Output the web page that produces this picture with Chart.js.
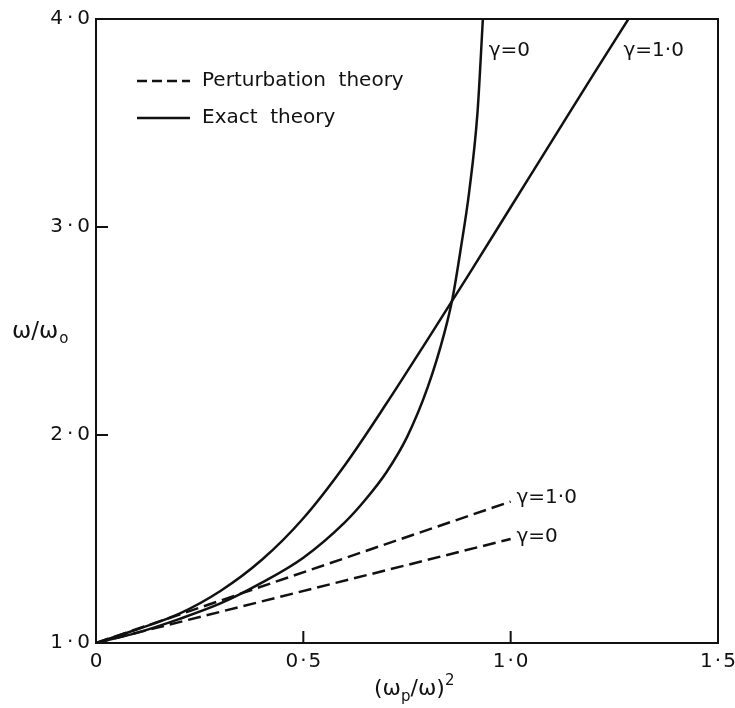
<!DOCTYPE html>
<html>
<head>
<meta charset="utf-8">
<script src="https://cdn.jsdelivr.net/npm/chart.js@4.4.1/dist/chart.umd.min.js"></script>
<style>
  body { margin: 0; background: #fff; }
  #wrap { width: 735px; height: 708px; }
</style>
</head>
<body>
<div id="wrap"><canvas id="chart"></canvas></div>
<script>
// (wp/w)^2 values and w/w0 values
const xExactG0 = [0, 0.1, 0.2, 0.3, 0.4, 0.5, 0.6, 0.65, 0.7, 0.75, 0.8, 0.84, 0.86, 0.88, 0.9, 0.92, 0.933];
const yExactG0 = [1.0, 1.05, 1.115, 1.19, 1.29, 1.41, 1.58, 1.69, 1.82, 1.99, 2.23, 2.49, 2.66, 2.9, 3.17, 3.55, 4.0];

const xExactG1 = [0, 0.1, 0.2, 0.3, 0.4, 0.5, 0.6, 0.7, 0.8, 0.9, 1.0, 1.1, 1.2, 1.284];
const yExactG1 = [1.0, 1.066, 1.14, 1.25, 1.4, 1.6, 1.855, 2.15, 2.46, 2.775, 3.095, 3.415, 3.735, 4.0];

const xPert = [0, 1.0];
const yPertG0 = [1.0, 1.5];
const yPertG1 = [1.0, 1.68];

const xTicks = [0, 0.5, 1.0, 1.5];
const yTicks = [1, 2, 3, 4];

// curve labels, in data coordinates
const curveLabels = [
    { text: 'γ=0', x: 0.947, y: 3.846 },
    { text: 'γ=1·0', x: 1.272, y: 3.846 },
    { text: 'γ=1·0', x: 1.014, y: 1.697 },
    { text: 'γ=0', x: 1.014, y: 1.51 }
];

const FONT = '"DejaVu Sans", sans-serif';
const INK = '#111';

function pts(xs, ys) {
    return xs.map((x, i) => ({ x: x, y: ys[i] }));
}

function fmtY(v) {
    return v.toFixed(1).replace('.', '\u2009·\u2009');
}

function fmtX(v) {
    if (v === 0) return '0';
    return v.toFixed(1).replace('.', '\u200a·\u200a');
}

const lineStyle = { borderColor: INK, borderWidth: 2.5, pointRadius: 0, showLine: true, fill: false };

// frame, inward ticks, axis titles, legend and curve labels
const decorations = {
    id: 'decorations',
    afterDraw(chart) {
        const ctx = chart.ctx;
        const a = chart.chartArea;
        const xs = chart.scales.x, ys = chart.scales.y;
        ctx.save();
        ctx.strokeStyle = INK;
        ctx.fillStyle = INK;
        ctx.lineWidth = 2;
        ctx.strokeRect(a.left, a.top, a.right - a.left, a.bottom - a.top);

        ctx.beginPath();
        [0.5, 1.0].forEach(v => {
            const px = xs.getPixelForValue(v);
            ctx.moveTo(px, a.bottom);
            ctx.lineTo(px, a.bottom - 12);
        });
        [2, 3].forEach(v => {
            const py = ys.getPixelForValue(v);
            ctx.moveTo(a.left, py);
            ctx.lineTo(a.left + 12, py);
        });
        ctx.stroke();

        // legend
        ctx.lineWidth = 2.5;
        ctx.setLineDash([10, 5]);
        ctx.beginPath();
        ctx.moveTo(a.left + 41, a.top + 62);
        ctx.lineTo(a.left + 94, a.top + 62);
        ctx.stroke();
        ctx.setLineDash([]);
        ctx.beginPath();
        ctx.moveTo(a.left + 41, a.top + 99);
        ctx.lineTo(a.left + 94, a.top + 99);
        ctx.stroke();
        ctx.font = '20px ' + FONT;
        ctx.textBaseline = 'middle';
        ctx.textAlign = 'left';
        ctx.fillText('Perturbation  theory', a.left + 106, a.top + 62);
        ctx.fillText('Exact  theory', a.left + 106, a.top + 99);

        curveLabels.forEach(l => {
            ctx.fillText(l.text, xs.getPixelForValue(l.x), ys.getPixelForValue(l.y));
        });

        // y title: w/w0
        ctx.textBaseline = 'alphabetic';
        ctx.font = '23px ' + FONT;
        ctx.fillText('ω/ω', 12, 338);
        const w1 = ctx.measureText('ω/ω').width;
        ctx.font = '15px ' + FONT;
        ctx.fillText('o', 13 + w1, 343);

        // x title: (wp/w)^2
        let x = 374;
        const base = 695;
        ctx.font = '22px ' + FONT;
        ctx.fillText('(ω', x, base);
        x += ctx.measureText('(ω').width;
        ctx.font = '15px ' + FONT;
        ctx.fillText('p', x, base + 6);
        x += ctx.measureText('p').width;
        ctx.font = '22px ' + FONT;
        ctx.fillText('/ω)', x, base);
        x += ctx.measureText('/ω)').width;
        ctx.font = '15px ' + FONT;
        ctx.fillText('2', x, base - 10);
        ctx.restore();
    }
};

new Chart(document.getElementById('chart'), {
    type: 'scatter',
    data: {
        datasets: [
            Object.assign({ label: 'Exact theory, γ=0', data: pts(xExactG0, yExactG0), cubicInterpolationMode: 'monotone' }, lineStyle),
            Object.assign({ label: 'Exact theory, γ=1·0', data: pts(xExactG1, yExactG1), cubicInterpolationMode: 'monotone' }, lineStyle),
            Object.assign({ label: 'Perturbation theory, γ=0', data: pts(xPert, yPertG0), borderDash: [13, 6] }, lineStyle),
            Object.assign({ label: 'Perturbation theory, γ=1·0', data: pts(xPert, yPertG1), borderDash: [13, 6] }, lineStyle)
        ]
    },
    options: {
        responsive: true,
        maintainAspectRatio: false,
        animation: false,
        layout: { padding: { top: 19, right: 17, bottom: 0, left: 0 } },
        plugins: { legend: { display: false }, tooltip: { enabled: false } },
        scales: {
            x: {
                type: 'linear',
                min: 0,
                max: 1.5,
                afterBuildTicks(s) { s.ticks = xTicks.map(v => ({ value: v })); },
                afterFit(s) { s.height = 65; s.paddingLeft = 0; s.paddingRight = 0; },
                grid: { display: false, drawTicks: false },
                border: { display: false },
                ticks: {
                    callback: fmtX,
                    color: INK,
                    padding: 7,
                    maxRotation: 0,
                    autoSkip: false,
                    font: { family: FONT, size: 20 }
                }
            },
            y: {
                type: 'linear',
                min: 1,
                max: 4,
                afterBuildTicks(s) { s.ticks = yTicks.map(v => ({ value: v })); },
                afterFit(s) { s.width = 96; },
                grid: { display: false, drawTicks: false },
                border: { display: false },
                ticks: {
                    callback: fmtY,
                    color: INK,
                    padding: 6,
                    autoSkip: false,
                    font: { family: FONT, size: 20 }
                }
            }
        }
    },
    plugins: [decorations]
});
</script>
</body>
</html>
